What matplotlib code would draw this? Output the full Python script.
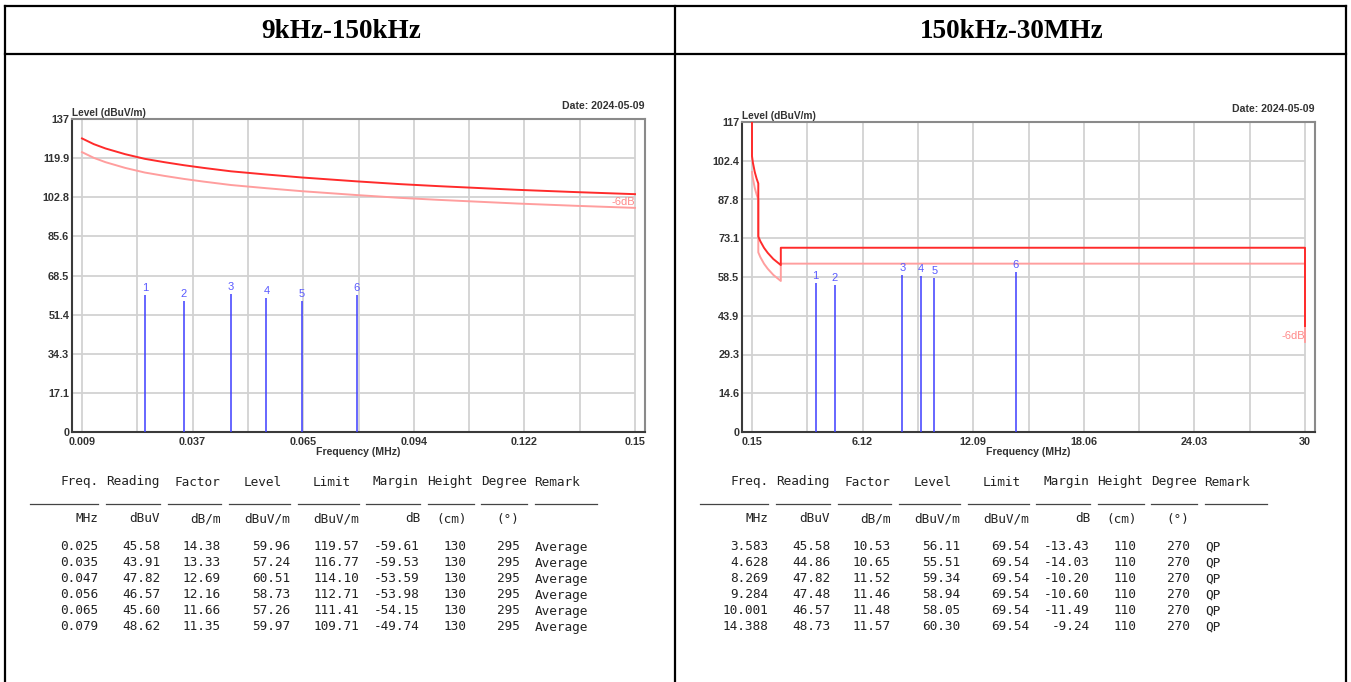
import matplotlib
matplotlib.use("Agg")
import matplotlib.pyplot as plt
from matplotlib.lines import Line2D
import numpy as np

# ---------------- data ----------------
titles = ["9kHz-150kHz", "150kHz-30MHz"]

# left chart (9kHz-150kHz)
left_xtick_labels = ["0.009", "0.037", "0.065", "0.094", "0.122", "0.15"]
left_ytick_labels = ["0", "17.1", "34.3", "51.4", "68.5", "85.6", "102.8", "119.9", "137"]
left_limit_freq = [0.009, 0.012, 0.015, 0.020, 0.025, 0.030, 0.035, 0.040, 0.047, 0.056,
                   0.065, 0.079, 0.090, 0.100, 0.110, 0.120, 0.135, 0.150]
left_limit_level = [128.5, 126.0, 124.1, 121.6, 119.57, 118.1, 116.77, 115.6, 114.10, 112.71,
                    111.41, 109.71, 108.5, 107.6, 106.8, 106.0, 105.0, 104.1]
left_limit6_level = [122.5, 120.0, 118.1, 115.6, 113.57, 112.1, 110.77, 109.6, 108.10, 106.71,
                     105.41, 103.71, 102.5, 101.6, 100.8, 100.0, 99.0, 98.1]
left_freq = [0.025, 0.035, 0.047, 0.056, 0.065, 0.079]
left_reading = [45.58, 43.91, 47.82, 46.57, 45.60, 48.62]
left_factor = [14.38, 13.33, 12.69, 12.16, 11.66, 11.35]
left_level = [59.96, 57.24, 60.51, 58.73, 57.26, 59.97]
left_limit = [119.57, 116.77, 114.10, 112.71, 111.41, 109.71]
left_margin = [-59.61, -59.53, -53.59, -53.98, -54.15, -49.74]
left_height = ["130"] * 6
left_degree = ["295"] * 6
left_remark = ["Average"] * 6

# right chart (150kHz-30MHz)
right_xtick_labels = ["0.15", "6.12", "12.09", "18.06", "24.03", "30"]
right_ytick_labels = ["0", "14.6", "29.3", "43.9", "58.5", "73.1", "87.8", "102.4", "117"]
right_limit_freq = [0.15, 0.15, 0.2, 0.3, 0.4, 0.49, 0.49, 0.6, 0.8, 1.0, 1.3, 1.705,
                    1.705, 30.0, 30.0]
right_limit_level = [125.0, 104.1, 101.6, 98.1, 95.6, 93.8, 73.8, 72.0, 69.5, 67.6, 65.3, 63.0,
                     69.54, 69.54, 40.0]
right_limit6_freq = [0.15, 0.2, 0.3, 0.4, 0.49, 0.49, 0.6, 0.8, 1.0, 1.3, 1.705,
                     1.705, 30.0, 30.0]
right_limit6_level = [98.1, 95.6, 92.1, 89.6, 87.8, 67.8, 66.0, 63.5, 61.6, 59.3, 57.0,
                      63.54, 63.54, 34.0]
right_freq = [3.583, 4.628, 8.269, 9.284, 10.001, 14.388]
right_reading = [45.58, 44.86, 47.82, 47.48, 46.57, 48.73]
right_factor = [10.53, 10.65, 11.52, 11.46, 11.48, 11.57]
right_level = [56.11, 55.51, 59.34, 58.94, 58.05, 60.30]
right_limit = [69.54] * 6
right_margin = [-13.43, -14.03, -10.20, -10.60, -11.49, -9.24]
right_height = ["110"] * 6
right_degree = ["270"] * 6
right_remark = ["QP"] * 6

table_headers = ["Freq.", "Reading", "Factor", "Level", "Limit", "Margin", "Height", "Degree", "Remark"]
table_units = ["MHz", "dBuV", "dB/m", "dBuV/m", "dBuV/m", "dB", "(cm)", "(\u00b0)"]
date_text = "Date: 2024-05-09"

# ---------------- layout helpers ----------------
W, H = 1351, 682
fig = plt.figure(figsize=(W / 100, H / 100), dpi=100)


def fx(px):
    return px / W


def fy(py):
    return 1 - py / H


# table borders
bc = "black"
blw = 1.6
fig.add_artist(Line2D([fx(5), fx(1346)], [fy(6), fy(6)], color=bc, lw=blw))
fig.add_artist(Line2D([fx(5), fx(1346)], [fy(54), fy(54)], color=bc, lw=blw))
for xp in (5, 675, 1346):
    fig.add_artist(Line2D([fx(xp), fx(xp)], [fy(6), fy(682)], color=bc, lw=blw))

fig.text(fx(341), fy(31), titles[0], ha="center", va="center", fontsize=19.5,
         fontweight="bold", family="Liberation Serif")
fig.text(fx(1012), fy(31), titles[1], ha="center", va="center", fontsize=19.5,
         fontweight="bold", family="Liberation Serif")

tick_font = dict(family="Liberation Sans", fontweight="bold", fontsize=7.8, color="#333333")
grid_c = "#d2d2d2"
lim_c = "#ff2b2b"
lim6_c = "#ff9e9e"
mk_c = "#3d3dff"
lbl_c = "#5a5aff"


def make_chart(x0, top, xmin_d, xmax_d, ymax, xtl, ytl, lim_f, lim_l, lim6_f, lim6_l,
               mfreq, mlevel):
    left_px, right_px, bottom_px = x0, x0 + 573, 432
    ax = fig.add_axes([fx(left_px), fy(bottom_px), (right_px - left_px) / W,
                       (bottom_px - top) / H])
    span = xmax_d - xmin_d
    pad = span * 10 / 553
    ax.set_xlim(xmin_d - pad, xmax_d + pad)
    ax.set_ylim(0, ymax)
    # grid
    vg = np.linspace(xmin_d, xmax_d, 11)
    hg = np.linspace(0, ymax, 9)
    ax.vlines(vg, 0, ymax, color=grid_c, lw=1.3, zorder=1)
    ax.hlines(hg[1:], xmin_d - pad, xmax_d, color=grid_c, lw=1.3, zorder=1)
    # ticks
    ax.set_xticks(np.linspace(xmin_d, xmax_d, 6))
    ax.set_xticklabels(xtl)
    ax.set_yticks(hg)
    ax.set_yticklabels(ytl)
    ax.tick_params(length=0, pad=2)
    ax.tick_params(axis="x", pad=3.5)
    for t in ax.get_xticklabels() + ax.get_yticklabels():
        t.set_fontfamily(tick_font["family"])
        t.set_fontweight(tick_font["fontweight"])
        t.set_fontsize(tick_font["fontsize"])
        t.set_color(tick_font["color"])
    # spines
    for s in ("left", "bottom"):
        ax.spines[s].set_color("#3a3a3a")
        ax.spines[s].set_linewidth(1.5)
    for s in ("top", "right"):
        ax.spines[s].set_color("#8a8a8a")
        ax.spines[s].set_linewidth(1.5)
    # limit lines
    ax.plot(lim6_f, lim6_l, color=lim6_c, lw=1.4, zorder=3, clip_on=True)
    ax.plot(lim_f, lim_l, color=lim_c, lw=1.4, zorder=4, clip_on=True)
    ax.text(lim6_f[-1], lim6_l[-1] + ymax * 0.003, "-6dB", ha="right", va="bottom",
            color="#ff8a8a", fontsize=8, family="Liberation Sans", zorder=5)
    # markers
    ax.vlines(mfreq, 0, mlevel, color=mk_c, lw=1.1, zorder=5)
    for i, (f, lv) in enumerate(zip(mfreq, mlevel)):
        ax.annotate(str(i + 1), (f, lv), xytext=(0, 1.5), textcoords="offset points",
                    ha="center", va="bottom", color=lbl_c, fontsize=8,
                    family="Liberation Sans", zorder=6)
    # labels
    ax.text(0.0, 1.004, "Level (dBuV/m)", transform=ax.transAxes, ha="left", va="bottom",
            fontsize=7.3, fontweight="bold", family="Liberation Sans", color="#333333")
    ax.text(1.0, 1.026, date_text, transform=ax.transAxes, ha="right", va="bottom",
            fontsize=7.6, fontweight="bold", family="Liberation Sans", color="#333333")
    ax.text(0.5, -0.064, "Frequency (MHz)", transform=ax.transAxes, ha="center",
            va="center", fontsize=7.6, fontweight="bold", family="Liberation Sans",
            color="#333333")
    return ax


make_chart(72, 119, 0.009, 0.15, 137, left_xtick_labels, left_ytick_labels,
           left_limit_freq, left_limit_level, left_limit_freq, left_limit6_level,
           left_freq, left_level)
make_chart(742, 122, 0.15, 30.0, 117, right_xtick_labels, right_ytick_labels,
           right_limit_freq, right_limit_level, right_limit6_freq, right_limit6_level,
           right_freq, right_level)

# ---------------- tables ----------------
mono = dict(family="DejaVu Sans Mono", fontsize=9.2, color="#222222")
header_left_x = [60, 106, 175, 244, 313, 373, 427, 481, 534]
unit_pos = [(98, "right"), (160, "right"), (221, "right"), (244, "left"), (313, "left"),
            (420, "right"), (436, "left"), (496, "left")]
underline_x = [(30, 98), (106, 160), (168, 221), (229, 290), (298, 359), (366, 420),
               (428, 474), (481, 527), (535, 597)]
data_right_x = [98, 160, 221, 290, 359, 420, 466, 520]
remark_x = 535
row_y = [547, 563, 579, 595, 611, 627]


def draw_table(off, freq, reading, factor, level, limit, margin, height, degree, remark):
    for xh, txt in zip(header_left_x, table_headers):
        fig.text(fx(xh + off), fy(482), txt, ha="left", va="center", **mono)
    for (xu, al), txt in zip(unit_pos, table_units):
        fig.text(fx(xu + off), fy(519), txt, ha=al, va="center", **mono)
    for a, b in underline_x:
        fig.add_artist(Line2D([fx(a + off), fx(b + off)], [fy(504), fy(504)],
                              color="#444444", lw=0.9))
    for i, yy in enumerate(row_y):
        vals = ["%.3f" % freq[i], "%.2f" % reading[i], "%.2f" % factor[i],
                "%.2f" % level[i], "%.2f" % limit[i], "%.2f" % margin[i],
                height[i], degree[i]]
        for xr, v in zip(data_right_x, vals):
            fig.text(fx(xr + off), fy(yy), v, ha="right", va="center", **mono)
        fig.text(fx(remark_x + off), fy(yy), remark[i], ha="left", va="center", **mono)


draw_table(0, left_freq, left_reading, left_factor, left_level, left_limit, left_margin,
           left_height, left_degree, left_remark)
draw_table(670, right_freq, right_reading, right_factor, right_level, right_limit,
           right_margin, right_height, right_degree, right_remark)

fig.savefig("out.png", dpi=100)
